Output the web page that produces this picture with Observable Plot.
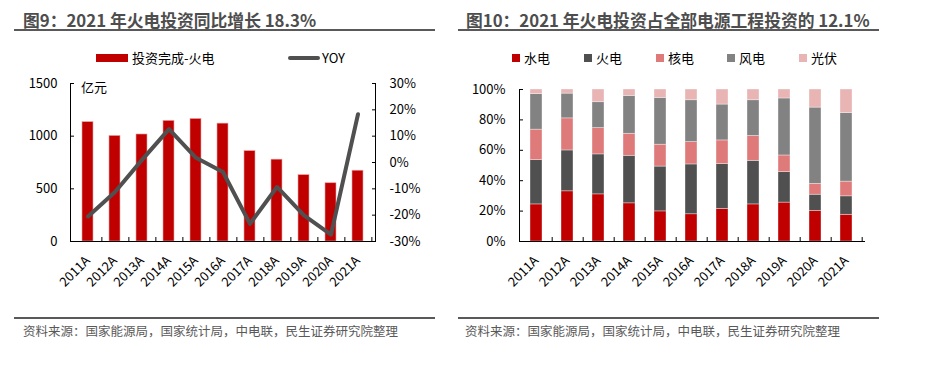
<!DOCTYPE html>
<html><head><meta charset="utf-8">
<script src="https://cdn.jsdelivr.net/npm/d3@7"></script>
<script src="https://cdn.jsdelivr.net/npm/@observablehq/plot@0.6"></script>
<style>
body{margin:0;background:#fff;font-family:"Noto Sans CJK SC","Noto Sans",sans-serif;}
#root{position:relative;width:946px;height:386px;overflow:hidden;background:#fff;}
.abs{position:absolute;white-space:nowrap;}
.title{font-weight:bold;font-size:16.8px;line-height:18px;color:#4d4d4d;}
.hr{position:absolute;height:2px;background:#595959;}
.src{font-size:12.5px;line-height:16px;color:#595959;}
.leg{font-size:13px;line-height:16px;color:#000;}
.plotbox{position:absolute;top:0;}
.plotbox svg{overflow:visible;}
</style></head><body><div id="root"></div>
<script>
// ---------- data ----------
const years = ["2011A","2012A","2013A","2014A","2015A","2016A","2017A","2018A","2019A","2020A","2021A"];
const thermalInvest = [1133, 1002, 1016, 1145, 1163, 1119, 858, 777, 630, 553, 672];
const thermalYoy = [-20.5, -11.2, 1.0, 12.7, 1.8, -3.6, -23.3, -9.3, -20.1, -27.4, 18.3];
const investTicks = [0, 500, 1000, 1500];
const yoyTicks = [-30, -20, -10, 0, 10, 20, 30];

const sources = ["水电", "火电", "核电", "风电", "光伏"];
const hydroShare   = [24.4, 33.0, 31.0, 25.1, 19.8, 17.9, 21.4, 24.4, 25.6, 20.1, 17.6];
const thermalShare = [29.1, 26.9, 26.3, 31.3, 29.5, 32.8, 29.5, 28.7, 20.0, 10.7, 12.1];
const nuclearShare = [20.1, 21.1, 17.3, 14.5, 14.4, 14.7, 15.6, 16.3, 11.0, 7.1, 9.7];
const windShare    = [23.3, 16.3, 17.0, 24.9, 30.8, 27.5, 23.6, 23.5, 37.5, 50.2, 45.1];
const solarShare   = [3.1, 2.7, 8.4, 4.2, 5.5, 7.1, 9.9, 7.1, 5.9, 11.9, 15.5];
const shareTicks = [0, 0.2, 0.4, 0.6, 0.8, 1];
const sourceColors = ["#c00000", "#505050", "#df7a7a", "#828282", "#e8b4b4"];

const leftTitle = "图9：2021 年火电投资同比增长 18.3%";
const rightTitle = "图10：2021 年火电投资占全部电源工程投资的 12.1%";
const sourceNote = "资料来源：国家能源局，国家统计局，中电联，民生证券研究院整理";
const investLegend = "投资完成-火电";
const yoyLegend = "YOY";
const unitLabel = "亿元";

// ---------- helpers ----------
const root = document.getElementById("root");
function el(cls, css, text) {
  const d = document.createElement("div");
  d.className = cls;
  Object.assign(d.style, css);
  if (text != null) d.textContent = text;
  root.appendChild(d);
  return d;
}
const FONT = '"Noto Sans CJK SC","Noto Sans",sans-serif';

// ---------- left chart ----------
const W = 473, H = 310;
const L = {l: 70, r: 98, t: 83, b: 69};
const leftStep = (W - L.l - L.r) / years.length;
const yMax = investTicks[investTicks.length - 1];
const yoyToY = v => (v - yoyTicks[0]) / (yoyTicks[yoyTicks.length - 1] - yoyTicks[0]) * yMax;
const yToYoy = y => Math.round(yoyTicks[0] + y / yMax * (yoyTicks[yoyTicks.length - 1] - yoyTicks[0]));
const leftData = years.map((y, i) => ({year: y, invest: thermalInvest[i], yoy: thermalYoy[i]}));

const leftPlot = Plot.plot({
  width: W, height: H,
  marginLeft: L.l, marginRight: L.r, marginTop: L.t, marginBottom: L.b,
  style: {fontFamily: FONT, fontSize: "13px", color: "#000", background: "transparent"},
  x: {domain: years, paddingInner: 0.6, paddingOuter: 0.3, label: null},
  y: {domain: [0, yMax], label: null},
  marks: [
    Plot.barY(leftData, {x: "year", y: "invest", fill: "#c00000", stroke: "#e9a0a0", strokeWidth: 0.6}),
    Plot.line(leftData, {x: "year", y: d => yoyToY(d.yoy), stroke: "#505050", strokeWidth: 4, strokeLinejoin: "round", strokeLinecap: "round"}),
    Plot.frame({anchor: "left", stroke: "#000"}),
    Plot.frame({anchor: "right", stroke: "#000"}),
    Plot.frame({anchor: "bottom", stroke: "#000"}),
    Plot.axisY({anchor: "left", ticks: investTicks, tickSize: 0, tickPadding: 13, label: null, fontSize: 13, tickFormat: d => String(d)}),
    Plot.axisY({anchor: "left", ticks: investTicks, tickSize: -4, fill: "none", label: null}),
    Plot.axisY({anchor: "right", ticks: yoyTicks.map(yoyToY), tickSize: 0, tickPadding: 14, label: null, fontSize: 13, tickFormat: d => yToYoy(d) + "%"}),
    Plot.axisY({anchor: "right", ticks: yoyTicks.map(yoyToY), tickSize: -4, fill: "none", label: null}),
    Plot.axisX({tickSize: 0, tickRotate: -45, tickPadding: 17, label: null, fontSize: 13}),
    Plot.axisX({tickSize: -4, fill: "none", label: null, dx: leftStep / 2})
  ]
});
const lb = el("plotbox", {left: "0px"});
lb.appendChild(leftPlot);

// ---------- right chart ----------
const R = {l: 46, r: 82, t: 89, b: 69};
const rightStep = (W - R.l - R.r) / years.length;
const shareSeries = [hydroShare, thermalShare, nuclearShare, windShare, solarShare];
const shareData = years.flatMap((y, i) => sources.map((s, j) => ({year: y, source: s, value: shareSeries[j][i]})));

const rightPlot = Plot.plot({
  width: W, height: H,
  marginLeft: R.l, marginRight: R.r, marginTop: R.t, marginBottom: R.b,
  style: {fontFamily: FONT, fontSize: "13px", color: "#000", background: "transparent"},
  x: {domain: years, paddingInner: 0.6, paddingOuter: 0.3, label: null},
  y: {domain: [0, 1], label: null},
  color: {domain: sources, range: sourceColors},
  marks: [
    Plot.barY(shareData, {x: "year", y: "value", fill: "source", offset: "normalize", order: sources, stroke: "#fff", strokeOpacity: 0.6, strokeWidth: 0.6}),
    Plot.frame({anchor: "left", stroke: "#000"}),
    Plot.frame({anchor: "bottom", stroke: "#000"}),
    Plot.axisY({anchor: "left", ticks: shareTicks, tickSize: 0, tickPadding: 14, label: null, fontSize: 13, tickFormat: d3.format(".0%")}),
    Plot.axisY({anchor: "left", ticks: shareTicks, tickSize: -4, fill: "none", label: null}),
    Plot.axisX({tickSize: 0, tickRotate: -45, tickPadding: 17, label: null, fontSize: 13}),
    Plot.axisX({tickSize: -4, fill: "none", label: null, dx: rightStep / 2})
  ]
});
const rb = el("plotbox", {left: "473px"});
rb.appendChild(rightPlot);

// ---------- titles, rules, legends, notes ----------
el("abs title", {left: "23px", top: "11px"}, leftTitle);
el("hr", {left: "14px", top: "28.5px", width: "421px"});
el("abs title", {left: "466px", top: "11px"}, rightTitle);
el("hr", {left: "458px", top: "28.5px", width: "421px"});

el("hr", {left: "14px", top: "316.5px", width: "421px"});
el("abs src", {left: "23px", top: "323px"}, sourceNote);
el("hr", {left: "458px", top: "316.5px", width: "421px"});
el("abs src", {left: "465px", top: "323px"}, sourceNote);

// left legend
el("abs", {left: "96px", top: "54.3px", width: "32px", height: "7.4px", background: "#c00000"});
el("abs leg", {left: "132px", top: "49.5px"}, investLegend);
el("abs", {left: "288px", top: "55.8px", width: "32px", height: "4px", background: "#505050", borderRadius: "2px"});
el("abs leg", {left: "322px", top: "49.5px"}, yoyLegend);
el("abs leg", {left: "81px", top: "78.5px"}, unitLabel);

// right legend
const legX = [512, 584, 656, 727, 799];
sources.forEach((s, i) => {
  el("abs", {left: legX[i] + "px", top: "54px", width: "8px", height: "8px", background: sourceColors[i]});
  el("abs leg", {left: (legX[i] + 12) + "px", top: "49.5px"}, s);
});
</script></body></html>
